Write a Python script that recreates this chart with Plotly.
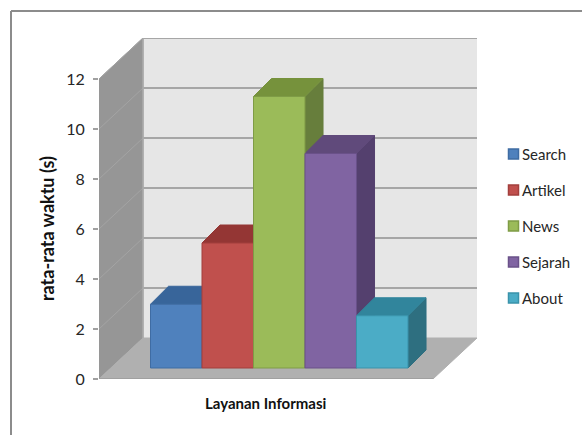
import plotly.graph_objects as go

categories = ["Search", "Artikel", "News", "Sejarah", "About"]
values = [2.55, 5.0, 10.86, 8.58, 2.09]
front_colors = ["#4F81BD", "#C0504D", "#9BBB59", "#8064A2", "#4BACC6"]
edge_colors = ["#3F6CA3", "#A23F3D", "#7F9C46", "#6A5189", "#3A93AB"]
top_colors = ["#38659A", "#943634", "#76923C", "#604A7B", "#31859C"]
side_colors = ["#33597F", "#7F3130", "#677E3C", "#54406E", "#2E6F80"]
y_ticks = [0, 2, 4, 6, 8, 10, 12]

W, H = 582, 435
L, R, T, B = 99, 105, 38, 56
X0, X1 = -1.5, 5.84
Y0, Y1 = 0, 13.64
WALL_DX, WALL_DY = 0.854, 1.64     # depth of the floor, in axis units
BAR_DX, BAR_DY = 0.35, 0.72        # depth of each column
BAR_BASE = 0.44                    # front of the columns sits this far above 0
HALF = 0.5
FLOOR_FRONT_RIGHT = 4.985

shapes = []

def poly(xs, ys, fill, line=None, lw=1):
    path = "M" + " L".join(f"{a},{b}" for a, b in zip(xs, ys)) + " Z"
    shapes.append(dict(type="path", path=path, xref="x", yref="y", fillcolor=fill,
                       line=dict(color=line or fill, width=lw), layer="below"))

def seg(x0, y0, x1, y1, color, lw):
    shapes.append(dict(type="line", x0=x0, y0=y0, x1=x1, y1=y1, xref="x", yref="y",
                       line=dict(color=color, width=lw), layer="below"))

top_tick = y_ticks[-1]
back_x0 = X0 + WALL_DX
# back wall
poly([back_x0, X1, X1, back_x0], [WALL_DY, WALL_DY, top_tick + WALL_DY, top_tick + WALL_DY], "#E6E6E6")
# left wall
poly([X0, back_x0, back_x0, X0], [0, WALL_DY, top_tick + WALL_DY, top_tick], "#969696")
# floor
poly([X0, FLOOR_FRONT_RIGHT, X1, back_x0], [0, 0, WALL_DY, WALL_DY], "#B0B0B0")
# grid lines
for t in y_ticks[1:]:
    seg(X0, t, back_x0, t + WALL_DY, "#A4A4A4", 1)
    seg(back_x0, t + WALL_DY, X1, t + WALL_DY, "#A6A6A6", 2)
seg(back_x0, WALL_DY, back_x0, top_tick + WALL_DY, "#ABABAB", 1.5)
seg(X0 - 0.02, 0, FLOOR_FRONT_RIGHT, 0, "#A0A0A0", 2)

# outer frame of the picture
shapes.append(dict(type="line", xref="paper", yref="paper",
                   x0=(11 - L) / (W - L - R), x1=(W - L) / (W - L - R),
                   y0=(H - B - 11) / (H - T - B), y1=(H - B - 11) / (H - T - B),
                   line=dict(color="#8C8C8C", width=2), layer="below"))
shapes.append(dict(type="line", xref="paper", yref="paper",
                   x0=(11 - L) / (W - L - R), x1=(11 - L) / (W - L - R),
                   y0=(H - B - 11) / (H - T - B), y1=(H - B - H) / (H - T - B),
                   line=dict(color="#8C8C8C", width=2), layer="below"))

fig = go.Figure()

for i, (name, v) in enumerate(zip(categories, values)):
    xl, xr = i - HALF, i + HALF
    yb, yt = BAR_BASE, BAR_BASE + v
    fig.add_trace(go.Scatter(
        x=[xr, xr + BAR_DX, xr + BAR_DX, xr, xr], y=[yb, yb + BAR_DY, yt + BAR_DY, yt, yb],
        mode="lines", fill="toself", fillcolor=side_colors[i],
        line=dict(color=side_colors[i], width=1), hoverinfo="skip", showlegend=False))
    fig.add_trace(go.Scatter(
        x=[xl, xr, xr + BAR_DX, xl + BAR_DX, xl], y=[yt, yt, yt + BAR_DY, yt + BAR_DY, yt],
        mode="lines", fill="toself", fillcolor=top_colors[i],
        line=dict(color=top_colors[i], width=1), hoverinfo="skip", showlegend=False))

for i, (name, v) in enumerate(zip(categories, values)):
    fig.add_trace(go.Bar(
        x=[i], y=[v], base=BAR_BASE, width=1, name=name, xaxis="x2", yaxis="y2",
        marker=dict(color=front_colors[i], line=dict(color=edge_colors[i], width=1)),
        showlegend=False))

FONT = "Lato"
TXT = "#262626"
annotations = [
    dict(text="<b>Layanan Informasi</b>", xref="paper", yref="paper",
         x=(266 - L) / (W - L - R), y=(H - B - 403) / (H - T - B), showarrow=False,
         xanchor="center", yanchor="middle",
         font=dict(family=FONT, size=15, color="#111111")),
    dict(text="<b>rata-rata waktu (s)</b>", xref="paper", yref="paper", textangle=-90,
         x=(47 - L) / (W - L - R), y=(H - B - 229) / (H - T - B), showarrow=False,
         xanchor="center", yanchor="middle",
         font=dict(family=FONT, size=18, color="#111111")),
]

# legend
for i, name in enumerate(categories):
    cy = 154 + i * 36
    shapes.append(dict(type="rect", xref="paper", yref="paper",
                       x0=(508.5 - L) / (W - L - R), x1=(518.5 - L) / (W - L - R),
                       y0=(H - B - cy - 5) / (H - T - B), y1=(H - B - cy + 5) / (H - T - B),
                       fillcolor=front_colors[i], line=dict(color=edge_colors[i], width=1.5)))
    annotations.append(dict(text=name, xref="paper", yref="paper",
                            xanchor="left", yanchor="middle",
                            x=(522 - L) / (W - L - R), y=(H - B - cy) / (H - T - B),
                            showarrow=False, xshift=-2,
                            font=dict(family=FONT, size=15, color=TXT)))

axis_off = dict(visible=False, fixedrange=True)
fig.update_layout(
    width=W, height=H, autosize=False,
    margin=dict(l=L, r=R, t=T, b=B, pad=0),
    paper_bgcolor="white", plot_bgcolor="rgba(0,0,0,0)",
    showlegend=False, barmode="overlay",
    shapes=shapes, annotations=annotations,
    xaxis=dict(range=[X0, X1], **axis_off),
    xaxis2=dict(range=[X0, X1], overlaying="x", **axis_off),
    yaxis=dict(range=[Y0, Y1], tickmode="array", tickvals=y_ticks, ticks="outside",
               ticklen=5, tickwidth=2, tickcolor="#A0A0A0", showgrid=False, zeroline=False,
               showline=False, fixedrange=True, ticklabelstandoff=5,
               tickfont=dict(family=FONT, size=16, color=TXT)),
    yaxis2=dict(range=[Y0, Y1], overlaying="y", **axis_off),
)

fig.write_html("out.html", config=dict(displayModeBar=False),
               post_script="document.body.style.margin='0';")
